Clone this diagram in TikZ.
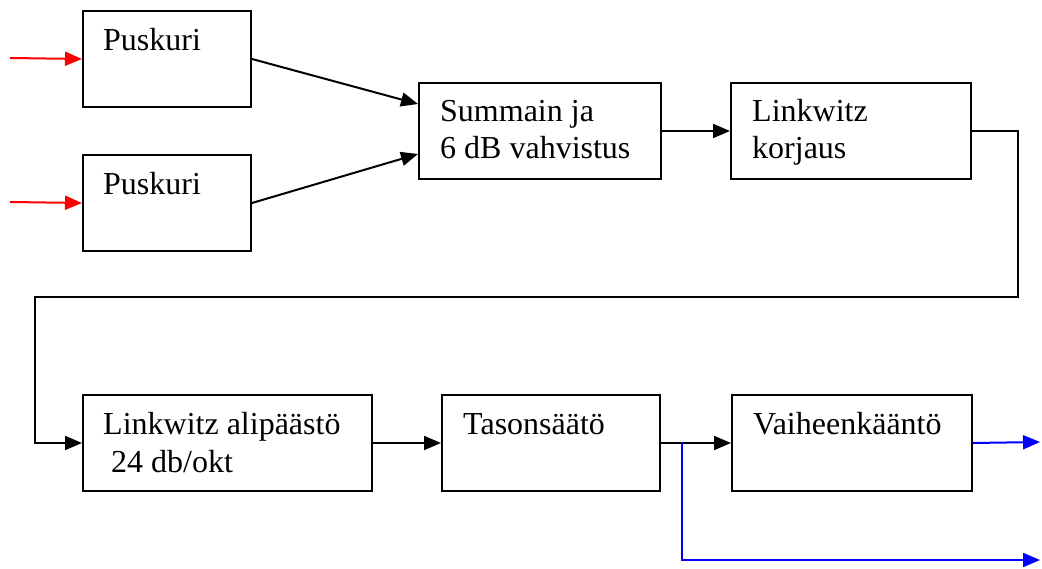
\documentclass[tikz,border=0pt]{standalone}
\usepackage{fontspec}
\setmainfont{Liberation Serif}
\newfontfamily\tnr{Liberation Serif}
\usetikzlibrary{arrows.meta,calc}
\begin{document}
\begin{tikzpicture}[x=1pt,y=-1pt,
  box/.style={draw,line width=2pt,minimum height=96pt,inner sep=0pt,anchor=north west},
  lbl/.style={anchor=base west,inner sep=0pt,font=\tnr\fontsize{32}{37}\selectfont},
  conn/.style={line width=2pt,-{Triangle[length=17pt,width=14pt]}},
  wire/.style={line width=2pt}]
\useasboundingbox (0,0) rectangle (1042,569);
% boxes
\node[box,minimum width=168pt] (p1) at (82,10) {};
\node[box,minimum width=168pt] (p2) at (82,154) {};
\node[box,minimum width=242pt] (s) at (418,82) {};
\node[box,minimum width=240pt] (k) at (730,82) {};
\node[box,minimum width=289pt] (a) at (82,394) {};
\node[box,minimum width=218pt] (t) at (441,394) {};
\node[box,minimum width=240pt] (v) at (731,394) {};
% texts
\node[lbl] (tp1) at ($(p1.north west)+(21,41)$) {Puskuri};
\node[lbl] (tp2) at ($(p2.north west)+(21,41)$) {Puskuri};
\node[lbl] (ts1) at ($(s.north west)+(22,40)$) {Summain ja};
\node[lbl] (ts2) at ($(s.north west)+(22,77)$) {6 dB vahvistus};
\node[lbl] (tk1) at ($(k.north west)+(22,40)$) {Linkwitz};
\node[lbl] (tk2) at ($(k.north west)+(22,77)$) {korjaus};
\node[lbl] (ta1) at ($(a.north west)+(21,40)$) {Linkwitz alipäästö};
\node[lbl] (ta2) at ($(a.north west)+(29,78)$) {24 db/okt};
\node[lbl] (tt1) at ($(t.north west)+(22,40)$) {Tasonsäätö};
\node[lbl] (tv1) at ($(v.north west)+(22,40)$) {Vaiheenkääntö};
% coordinates
\coordinate (r1) at (10,58);
\coordinate (r2) at (10,202);
\coordinate (s1) at ($(s.north west)+(0,22)$);
\coordinate (s2) at ($(s.north west)+(0,72)$);
\coordinate (cR) at (1018,297);
\coordinate (cL) at (35,297);
\coordinate (br) at (682,442);
\coordinate (o1) at (1040,442);
\coordinate (o2) at (1040,560);
% connectors
\draw[conn,red] (r1) -- (p1.west);
\draw[conn,red] (r2) -- (p2.west);
\draw[conn] (p1.east) -- (s1);
\draw[conn] (p2.east) -- (s2);
\draw[conn] (s.east) -- (k.west);
\draw[conn] (k.east) -| (cR) -- (cL) |- (a.west);
\draw[conn] (a.east) -- (t.west);
\draw[conn] (t.east) -- (v.west);
\draw[conn,blue] (v.east) -- (o1);
\draw[conn,blue] (br) |- (o2);
\end{tikzpicture}
\end{document}
